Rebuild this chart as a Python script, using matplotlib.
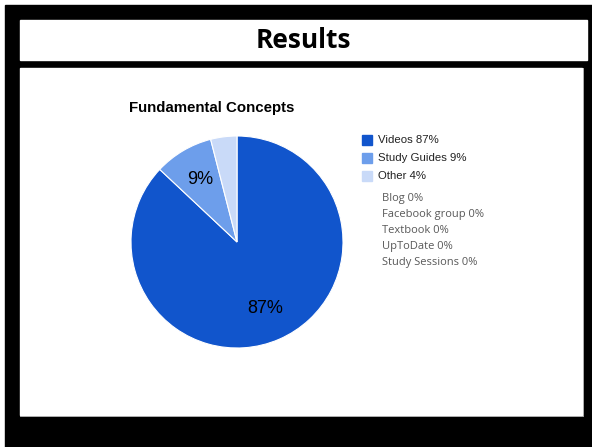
import matplotlib
matplotlib.use("Agg")
import matplotlib.pyplot as plt
from matplotlib.patches import Rectangle

# data
labels = ["Videos", "Study Guides", "Other"]
values = [87, 9, 4]
colors = ["#1155cc", "#6d9eeb", "#c9daf8"]
zero_items = ["Blog", "Facebook group", "Textbook", "UpToDate", "Study Sessions"]

W, H = 592, 447
fig = plt.figure(figsize=(W / 100, H / 100), dpi=100)
fig.patch.set_facecolor("white")

def px(x, y, w, h):
    # pixel box (top-left origin) -> figure fraction
    return [x / W, 1 - (y + h) / H, w / W, h / H]

# background frames
bg = fig.add_axes([0, 0, 1, 1])
bg.set_xlim(0, W)
bg.set_ylim(H, 0)
bg.axis("off")
bg.add_patch(Rectangle((5, 5), W - 5, H - 5, color="black"))
bg.add_patch(Rectangle((20, 20), 567, 40, color="white"))
bg.add_patch(Rectangle((20, 68), 564, 349, facecolor="#999999"))
bg.add_patch(Rectangle((20, 68), 562, 347, color="white"))
bg.text(303, 40, "Results", ha="center", va="center", fontsize=19,
        fontweight="bold", family="Open Sans")

bg.text(212, 108, "Fundamental Concepts", ha="center", va="center",
        fontsize=10.8, fontweight="bold", family="Liberation Sans")

# pie
ax = fig.add_axes(px(131, 136, 212, 212))
ax.patch.set_visible(False)


def pct(p):
    return f"{p:.0f}%" if p >= 5 else ""


ax.pie(values, colors=colors, startangle=90, counterclock=False,
       autopct=pct, pctdistance=0.68,
       textprops=dict(fontsize=13, family="Liberation Sans", color="black"),
       wedgeprops=dict(edgecolor="white", linewidth=0.8))
ax.set_xlim(-1, 1)
ax.set_ylim(-1, 1)
ax.set_aspect("equal")

# legend
for i, (lab, val, c) in enumerate(zip(labels, values, colors)):
    y = 140 + i * 18
    bg.add_patch(Rectangle((362, y - 5), 10, 10, color=c))
    bg.text(378, y, f"{lab} {val}%", ha="left", va="center", fontsize=8.2,
            color="#222222", family="Liberation Sans")

for i, item in enumerate(zero_items):
    bg.text(382, 198 + i * 16.2, f"{item} 0%", ha="left", va="center",
            fontsize=8, color="#595959", family="Open Sans")

fig.savefig("out.png", dpi=100)
